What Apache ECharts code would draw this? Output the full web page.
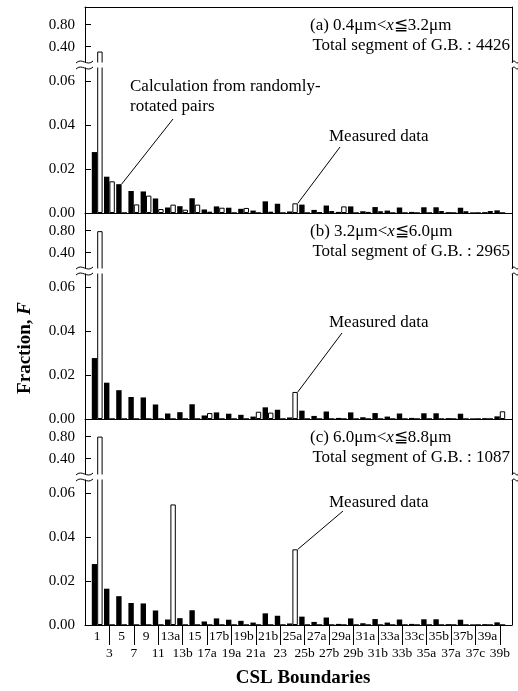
<!DOCTYPE html>
<html>
<head>
<meta charset="utf-8">
<script src="https://cdn.jsdelivr.net/npm/echarts@6/dist/echarts.min.js"></script>
<style>
  html, body { margin: 0; padding: 0; background: #fff; }
  #chart { width: 518px; height: 691px; }
</style>
</head>
<body>
<div id="chart"></div>
<script>
// CSL boundary types (Σ values)
const categories = ['1','3','5','7','9','11','13a','13b','15','17a','17b','19a','19b','21a','21b','23',
  '25a','25b','27a','27b','29a','29b','31a','31b','33a','33b','33c','35a','35b','37a','37b','37c','39a','39b'];

// Fraction calculated from randomly-rotated pairs (same in every panel)
const calculated = [0.0277, 0.0165, 0.0131, 0.0100, 0.0098, 0.0066, 0.0025, 0.0031, 0.0067, 0.0016,
  0.0030, 0.0024, 0.0019, 0.0011, 0.0053, 0.0042, 0.0007, 0.0038, 0.0014, 0.0034,
  0.0005, 0.0030, 0.0008, 0.0027, 0.0011, 0.0025, 0.0005, 0.0026, 0.0026, 0.0004,
  0.0024, 0.0003, 0.0004, 0.0012];

// Measured fractions, one list per grain-size class
const measuredA = [0.31, 0.0144, 0, 0.0039, 0.0079, 0.0018, 0.0038, 0.0015, 0.0038, 0.0006,
  0.0024, 0, 0.0023, 0, 0.0006, 0, 0.0044, 0, 0.0003, 0.0009,
  0.0030, 0, 0.0005, 0.0008, 0, 0, 0, 0, 0.0009, 0,
  0.0008, 0, 0.0009, 0];
const measuredB = [0.79, 0, 0, 0, 0, 0, 0, 0, 0, 0.0027,
  0, 0, 0, 0.0033, 0.0029, 0, 0.0123, 0, 0, 0,
  0, 0, 0, 0, 0, 0, 0, 0, 0, 0,
  0, 0, 0, 0.0035];
const measuredC = [0.80, 0, 0, 0, 0, 0, 0.0548, 0, 0, 0,
  0, 0, 0, 0, 0, 0, 0.0344, 0, 0, 0,
  0, 0, 0, 0, 0, 0, 0, 0, 0, 0,
  0, 0, 0, 0];

const panelTitles = ['(a) 0.4μm<{i|x}≦3.2μm', '(b) 3.2μm<{i|x}≦6.0μm', '(c) 6.0μm<{i|x}≦8.8μm'];
const totalSegments = [4426, 2965, 1087];
const lowerTicks = [0, 0.02, 0.04, 0.06];
const upperTicks = [0.4, 0.8];

// ---- layout ----
const FONT = '"Liberation Serif", "Times New Roman", Times, serif';
const PLOT_LEFT = 85, PLOT_WIDTH = 427;
const PANEL_TOP = 7, PANEL_H = 206;
const UPPER_H = 58;          // upper segment height (bottom 3px hidden under the break strip)
const PX_UPPER = 55;         // px per unit above the break
const PX_LOWER = 2200;       // px per unit below the break
const UPPER_MAX = 1.12;
const UPPER_MIN = UPPER_MAX - UPPER_H / PX_UPPER;
const LOWER_MAX = (PANEL_H - UPPER_H) / PX_LOWER;
const BAR_W = 5.4;
const LINE = { color: '#000', width: 1 };

const axisCats = [''].concat(categories, ['']);
const pad = arr => ['-'].concat(arr, ['-']);

const chart = echarts.init(document.getElementById('chart'), null, { renderer: 'canvas' });

const grids = [], xAxes = [], yAxes = [], series = [];
const panelAxes = [];   // per panel: { upper: [x, y], lower: [x, y] }
[measuredA, measuredB, measuredC].forEach((measured, k) => {
  const t = PANEL_TOP + k * PANEL_H;
  const entry = {};
  ['upper', 'lower'].forEach(part => {
    const upper = part === 'upper';
    const g = grids.length;
    grids.push({
      left: PLOT_LEFT, width: PLOT_WIDTH,
      top: upper ? t : t + UPPER_H,
      height: upper ? UPPER_H : PANEL_H - UPPER_H
    });
    const bottomAxis = k === 2 && !upper;
    xAxes.push({
      type: 'category', gridIndex: g, data: axisCats, boundaryGap: false,
      position: upper ? 'top' : 'bottom',
      axisLine: { show: upper ? k === 0 : true, onZero: false, lineStyle: LINE },
      axisTick: {
        show: bottomAxis, length: 20, lineStyle: LINE,
        interval: i => i >= 2 && i <= categories.length && i % 2 === 0
      },
      axisLabel: {
        show: bottomAxis, interval: 0, margin: 3, color: '#000',
        fontFamily: FONT, fontSize: 13.5, lineHeight: 17,
        formatter: (v, i) => (v === '' ? '' : ((i - 1) % 2 === 0 ? v : '\n' + v))
      },
      splitLine: { show: false }
    });
    const min = upper ? UPPER_MIN : 0;
    const max = upper ? UPPER_MAX : LOWER_MAX;
    const ticks = upper ? upperTicks : lowerTicks;
    const yi = yAxes.length;
    yAxes.push({
      type: 'value', gridIndex: g, min, max, position: 'left',
      axisLine: { show: true, lineStyle: LINE },
      axisTick: { show: true, inside: true, length: 6, lineStyle: LINE, customValues: ticks },
      axisLabel: {
        customValues: ticks, margin: 10, color: '#000', fontFamily: FONT, fontSize: 15,
        formatter: v => v.toFixed(2)
      },
      splitLine: { show: false }
    });
    yAxes.push({
      type: 'value', gridIndex: g, min, max, position: 'right',
      axisLine: { show: true, lineStyle: LINE },
      axisTick: { show: false }, axisLabel: { show: false }, splitLine: { show: false }
    });
    series.push({
      type: 'bar', name: 'Calculated', xAxisIndex: g, yAxisIndex: yi,
      data: pad(calculated), barWidth: BAR_W, barGap: '0%',
      itemStyle: { color: '#000' }, silent: true
    });
    series.push({
      type: 'bar', name: 'Measured', xAxisIndex: g, yAxisIndex: yi,
      data: pad(upper ? measured.map(v => (v > UPPER_MIN ? v : '-')) : measured),
      barWidth: BAR_W, barGap: '0%',
      itemStyle: { color: '#fff', borderColor: '#000', borderWidth: 1 }, silent: true
    });
    entry[part] = { xAxisIndex: g, yAxisIndex: yi };
  });
  panelAxes.push(entry);
});

chart.setOption({
  animation: false,
  backgroundColor: '#fff',
  grid: grids, xAxis: xAxes, yAxis: yAxes, series: series
});

// ---- decorations: axis breaks, panel texts, leader lines, axis titles ----
const textStyle = (extra) => Object.assign({ fill: '#000', fontFamily: FONT, fontSize: 17 }, extra);
const richItalic = { i: { fontStyle: 'italic', fontFamily: FONT, fontSize: 17, fill: '#000' } };
const wave = (x1, x2, y) => ({
  type: 'bezierCurve', z: 60,
  shape: { x1: x1, y1: y + 1, x2: x2, y2: y - 1,
           cpx1: x1 + (x2 - x1) * 0.35, cpy1: y - 5, cpx2: x1 + (x2 - x1) * 0.65, cpy2: y + 5 },
  style: { stroke: '#000', lineWidth: 1, fill: null }
});
const barTop = (axes, cat, value, measured) => {
  const p = chart.convertToPixel(axes, [cat, value]);
  return [measured ? p[0] + BAR_W : p[0], p[1]];
};

const graphics = [];
const rightEdge = PLOT_LEFT + PLOT_WIDTH;
const measuredLists = [measuredA, measuredB, measuredC];
const measuredTextY = [137, 323, 503];
const leaderStart = [[340, 147], [342, 333], [343, 511]];

panelAxes.forEach((axes, k) => {
  const t = PANEL_TOP + k * PANEL_H;
  const yb1 = t + UPPER_H - 3, yb2 = t + UPPER_H + 3;
  // break strip hides the clipped bar ends and the axis lines
  graphics.push({ type: 'rect', z: 50, shape: { x: 78, y: yb1 + 0.5, width: 440, height: yb2 - yb1 - 1 },
                  style: { fill: '#fff' } });
  graphics.push(wave(PLOT_LEFT - 9, PLOT_LEFT + 8, yb1));
  graphics.push(wave(PLOT_LEFT - 9, PLOT_LEFT + 8, yb2));
  graphics.push(wave(rightEdge, rightEdge + 7, yb1));
  graphics.push(wave(rightEdge, rightEdge + 7, yb2));

  graphics.push({ type: 'text', z: 70, x: 310, y: t + 19,
    style: textStyle({ text: panelTitles[k], rich: richItalic, verticalAlign: 'middle', align: 'left' }) });
  graphics.push({ type: 'text', z: 70, x: rightEdge - 2, y: t + 39,
    style: textStyle({ text: 'Total segment of G.B. : ' + totalSegments[k], verticalAlign: 'middle', align: 'right' }) });

  // "Measured data" pointing at the Σ25a measured bar
  const idx25a = categories.indexOf('25a');
  const end = barTop(axes.lower, categories[idx25a], measuredLists[k][idx25a], true);
  graphics.push({ type: 'text', z: 70, x: 329, y: measuredTextY[k],
    style: textStyle({ text: 'Measured data', verticalAlign: 'middle', align: 'left' }) });
  graphics.push({ type: 'line', z: 70,
    shape: { x1: leaderStart[k][0], y1: leaderStart[k][1], x2: end[0], y2: end[1] },
    style: { stroke: '#000', lineWidth: 1 } });
});

// calculation note in panel (a), pointing at the Σ5 calculated bar
const idx5 = categories.indexOf('5');
const calcEnd = barTop(panelAxes[0].lower, categories[idx5], calculated[idx5], false);
graphics.push({ type: 'text', z: 70, x: 130, y: 77,
  style: textStyle({ text: 'Calculation from randomly-\nrotated pairs', lineHeight: 20, verticalAlign: 'top', align: 'left' }) });
graphics.push({ type: 'line', z: 70, shape: { x1: 173, y1: 119, x2: calcEnd[0], y2: calcEnd[1] },
  style: { stroke: '#000', lineWidth: 1 } });

// axis titles
graphics.push({ type: 'text', z: 70, x: 25, y: 348, rotation: Math.PI / 2,
  style: { text: 'Fraction, {i|F}', fill: '#000', fontFamily: FONT, fontSize: 19, fontWeight: 'bold',
           align: 'center', verticalAlign: 'middle',
           rich: { i: { fontStyle: 'italic', fontWeight: 'bold', fontFamily: FONT, fontSize: 19, fill: '#000' } } } });
graphics.push({ type: 'text', z: 70, x: 303, y: 678,
  style: { text: 'CSL Boundaries', fill: '#000', fontFamily: FONT, fontSize: 19, fontWeight: 'bold',
           align: 'center', verticalAlign: 'middle' } });

chart.setOption({ graphic: graphics });
</script>
</body>
</html>
